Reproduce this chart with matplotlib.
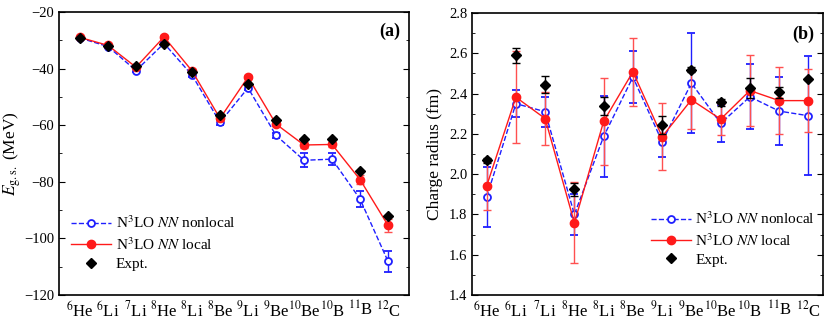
import numpy as np
import matplotlib
matplotlib.use("Agg")
import matplotlib.pyplot as plt
from matplotlib.ticker import MultipleLocator
from matplotlib.lines import Line2D

plt.rcParams['font.family'] = ['Liberation Serif', 'DejaVu Serif']
plt.rcParams['mathtext.fontset'] = 'stix'
plt.rcParams['font.size'] = 10.5

# nuclei
nuclei = [r'$^{6}$He', r'$^{6}$Li', r'$^{7}$Li', r'$^{8}$He', r'$^{8}$Li', r'$^{8}$Be',
          r'$^{9}$Li', r'$^{9}$Be', r'$^{10}$Be', r'$^{10}$B', r'$^{11}$B', r'$^{12}$C']

# (a) ground state energies (MeV)
E_nonlocal = [-29.2, -32.2, -40.7, -31.1, -42.3, -59.0, -46.8, -63.6, -72.4, -72.0, -86.1, -108.1]
E_nonlocal_err = [0.4, 0.4, 0.6, 0.5, 0.7, 0.8, 0.9, 1.0, 2.5, 2.1, 2.9, 3.6]
E_local = [-29.0, -31.8, -39.5, -28.8, -40.8, -57.6, -43.0, -59.6, -67.0, -66.8, -79.2, -95.4]
E_local_err = [0.3, 0.3, 0.4, 0.5, 0.5, 0.8, 0.6, 0.8, 1.0, 1.0, 1.5, 2.2]
E_expt = [-29.27, -31.99, -39.24, -31.41, -41.28, -56.50, -45.34, -58.17, -64.98, -64.75, -76.21, -92.16]

# (b) charge radii (fm); 8Be has no experimental value
R_nonlocal = [1.886, 2.350, 2.310, 1.800, 2.187, 2.482, 2.161, 2.452, 2.252, 2.384, 2.313, 2.290]
R_nonlocal_err = [0.148, 0.067, 0.075, 0.100, 0.200, 0.130, 0.077, 0.247, 0.090, 0.162, 0.168, 0.296]
R_local = [1.941, 2.382, 2.276, 1.758, 2.262, 2.508, 2.186, 2.369, 2.273, 2.415, 2.365, 2.365]
R_local_err = [0.120, 0.228, 0.132, 0.201, 0.216, 0.168, 0.166, 0.145, 0.077, 0.175, 0.165, 0.157]
R_expt = [2.068, 2.589, 2.444, 1.924, 2.339, np.nan, 2.245, 2.519, 2.357, 2.428, 2.406, 2.470]
R_expt_err = [0.011, 0.039, 0.042, 0.031, 0.044, np.nan, 0.046, 0.012, 0.018, 0.050, 0.029, 0.002]

x = np.arange(len(nuclei))
blue = '#1f1fff'
red = '#ff1a1a'

fig = plt.figure(figsize=(8.3, 3.24), dpi=100)
ax1 = fig.add_axes([0.0711, 0.0895, 0.4217, 0.8735])
ax2 = fig.add_axes([0.5687, 0.0895, 0.4229, 0.8704])

handles = [
    Line2D([], [], color=blue, ls='--', lw=1.0, marker='o', ms=5, mfc='white', mec=blue, mew=1.3),
    Line2D([], [], color=red, ls='-', lw=1.0, marker='o', ms=6, mfc=red, mec=red),
    Line2D([], [], color='black', ls='none', marker='D', ms=5),
]
labels = [r'N$^3$LO $NN$ nonlocal', r'N$^3$LO $NN$ local', 'Expt.']


def draw(ax, nl, nl_err, lo, lo_err, ex, ex_err):
    ax.errorbar(x, nl, yerr=nl_err, color=blue, ls='--', lw=1.0, marker='o', ms=5,
                mfc='white', mec=blue, mew=1.3, capsize=3, elinewidth=1.0, zorder=2)
    ax.errorbar(x, lo, yerr=lo_err, color=red, ls='-', lw=1.0, marker='o', ms=6,
                mfc=red, mec=red, capsize=3, elinewidth=1.0, ecolor='#ff5050', zorder=3)
    ax.errorbar(x, ex, yerr=ex_err, color='black', ls='none', marker='D', ms=5,
                capsize=3, elinewidth=1.0, zorder=4)
    ax.set_xticks(x)
    ax.set_xticklabels(nuclei, fontsize=12)
    ax.tick_params(axis='x', length=0, pad=4)
    ax.tick_params(axis='y', which='both', direction='in', right=True, labelsize=10.5)
    ax.tick_params(axis='y', which='major', length=4)
    ax.tick_params(axis='y', which='minor', length=2.5)
    for s in ax.spines.values():
        s.set_linewidth(1.2)


draw(ax1, E_nonlocal, E_nonlocal_err, E_local, E_local_err, E_expt, None)
ax1.set_xlim(-0.75, 11.75)
ax1.set_ylim(-120, -20)
ax1.yaxis.set_major_locator(MultipleLocator(20))
ax1.yaxis.set_minor_locator(MultipleLocator(10))
ax1.set_yticks(ax1.get_yticks())
ax1.set_yticklabels([f'\u2212{abs(int(v))}' if v < 0 else str(int(v)) for v in ax1.get_yticks()])
ax1.set_ylim(-120, -20)
ax1.set_ylabel(r'$E_{\rm g.s.}$ (MeV)', fontsize=12.5, labelpad=1)
ax1.text(0.975, 0.93, '(a)', transform=ax1.transAxes, ha='right', va='center',
         fontsize=13, fontweight='bold')
ax1.legend(handles, labels, loc='lower left', bbox_to_anchor=(0.035, 0.085), frameon=False,
           borderpad=0, borderaxespad=0, handlelength=2.6, handletextpad=0.3,
           labelspacing=0.3, numpoints=1, fontsize=11)

draw(ax2, R_nonlocal, R_nonlocal_err, R_local, R_local_err, R_expt, R_expt_err)
ax2.set_xlim(-0.5, 11.5)
ax2.set_ylim(1.4, 2.8)
ax2.yaxis.set_major_locator(MultipleLocator(0.2))
ax2.yaxis.set_minor_locator(MultipleLocator(0.1))
ax2.yaxis.set_major_formatter(plt.FormatStrFormatter('%.1f'))
ax2.set_ylabel('Charge radius (fm)', fontsize=12.5, labelpad=4)
ax2.text(0.975, 0.925, '(b)', transform=ax2.transAxes, ha='right', va='center',
         fontsize=13, fontweight='bold')
ax2.legend(handles, labels, loc='lower left', bbox_to_anchor=(0.51, 0.1), frameon=False,
           borderpad=0, borderaxespad=0, handlelength=2.6, handletextpad=0.3,
           labelspacing=0.3, numpoints=1, fontsize=11)

fig.savefig('out.png', dpi=100)
